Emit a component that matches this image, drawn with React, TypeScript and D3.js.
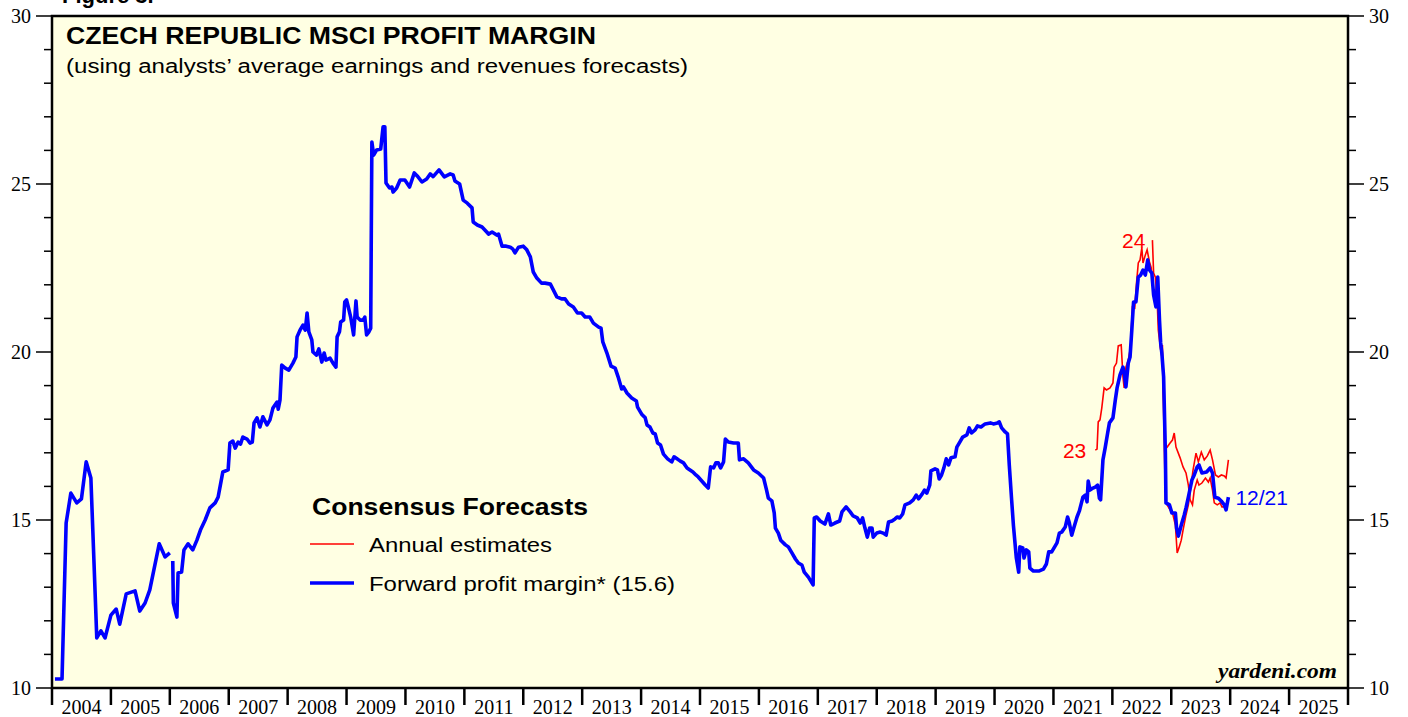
import React from 'react';
import * as d3 from 'd3';

// forward profit margin (decimal year, %); NaN marks the gap in early 2006
const forwardMargin: [number, number][] = [
  [2004.05, 10.27], [2004.17, 10.27], [2004.24, 14.91], [2004.32, 15.8], [2004.42, 15.51], [2004.5, 15.63],
  [2004.58, 16.73], [2004.66, 16.25], [2004.76, 11.49], [2004.83, 11.7], [2004.9, 11.49], [2005.0, 12.17],
  [2005.09, 12.35], [2005.15, 11.9], [2005.26, 12.8], [2005.41, 12.89], [2005.49, 12.29], [2005.58, 12.53],
  [2005.66, 12.92], [2005.82, 14.29], [2005.92, 13.9], [2006.0, 14.02], [2006.03, NaN],
  [2006.05, 13.78], [2006.06, 12.53], [2006.12, 12.11], [2006.14, 13.42], [2006.2, 13.45], [2006.24, 14.11],
  [2006.31, 14.29], [2006.39, 14.11], [2006.46, 14.4], [2006.52, 14.7], [2006.6, 15.0], [2006.68, 15.36],
  [2006.77, 15.51], [2006.82, 15.68], [2006.9, 16.43], [2006.99, 16.49], [2007.02, 17.29], [2007.07, 17.35],
  [2007.11, 17.14], [2007.16, 17.32], [2007.2, 17.26], [2007.24, 17.47], [2007.31, 17.41], [2007.36, 17.29],
  [2007.4, 17.32], [2007.43, 17.89], [2007.48, 18.04], [2007.53, 17.77], [2007.58, 18.07], [2007.65, 17.83],
  [2007.7, 17.98], [2007.75, 18.33], [2007.82, 18.51], [2007.84, 18.3], [2007.87, 18.57], [2007.9, 19.61],
  [2007.96, 19.52], [2008.02, 19.46], [2008.09, 19.67], [2008.14, 19.85], [2008.16, 20.45], [2008.21, 20.65],
  [2008.26, 20.8], [2008.3, 20.65], [2008.33, 21.16], [2008.36, 20.6], [2008.41, 20.36], [2008.43, 20.0],
  [2008.49, 19.91], [2008.53, 20.09], [2008.58, 19.7], [2008.62, 19.97], [2008.65, 19.76], [2008.72, 19.82],
  [2008.77, 19.67], [2008.82, 19.55], [2008.84, 20.45], [2008.88, 20.6], [2008.9, 20.89], [2008.95, 20.95],
  [2008.97, 21.49], [2009.0, 21.55], [2009.03, 21.34], [2009.07, 21.04], [2009.12, 20.51], [2009.16, 21.52],
  [2009.18, 21.04], [2009.23, 20.95], [2009.28, 20.95], [2009.31, 21.04], [2009.34, 20.51], [2009.38, 20.6],
  [2009.41, 20.71], [2009.43, 26.25], [2009.46, 25.86], [2009.51, 26.01], [2009.58, 26.04], [2009.62, 26.7],
  [2009.65, 26.7], [2009.67, 25.03], [2009.73, 24.88], [2009.77, 24.91], [2009.79, 24.76], [2009.85, 24.88],
  [2009.91, 25.12], [2009.99, 25.12], [2010.07, 24.91], [2010.15, 25.33], [2010.2, 25.24], [2010.28, 25.06],
  [2010.36, 25.15], [2010.42, 25.3], [2010.47, 25.22], [2010.57, 25.42], [2010.66, 25.21], [2010.76, 25.3],
  [2010.81, 25.27], [2010.84, 25.09], [2010.92, 25.0], [2010.98, 24.52], [2011.05, 24.43], [2011.13, 24.29],
  [2011.15, 23.87], [2011.22, 23.78], [2011.3, 23.72], [2011.38, 23.57], [2011.41, 23.51], [2011.47, 23.57],
  [2011.55, 23.48], [2011.58, 23.51], [2011.64, 23.15], [2011.71, 23.15], [2011.78, 23.12], [2011.82, 23.07],
  [2011.86, 22.95], [2011.92, 23.12], [2012.0, 23.15], [2012.06, 23.04], [2012.12, 22.83], [2012.17, 22.38],
  [2012.23, 22.2], [2012.31, 22.05], [2012.37, 22.05], [2012.46, 22.02], [2012.51, 21.85], [2012.57, 21.64],
  [2012.65, 21.58], [2012.71, 21.58], [2012.77, 21.43], [2012.85, 21.34], [2012.92, 21.16], [2012.99, 21.16],
  [2013.05, 21.04], [2013.13, 21.04], [2013.19, 20.86], [2013.28, 20.74], [2013.32, 20.71], [2013.35, 20.3],
  [2013.42, 19.97], [2013.49, 19.58], [2013.56, 19.52], [2013.61, 19.26], [2013.67, 18.9], [2013.7, 18.96],
  [2013.76, 18.78], [2013.84, 18.63], [2013.92, 18.54], [2013.94, 18.36], [2014.01, 18.15], [2014.07, 18.04],
  [2014.1, 17.83], [2014.15, 17.77], [2014.2, 17.59], [2014.24, 17.56], [2014.28, 17.29], [2014.33, 17.23],
  [2014.38, 16.96], [2014.45, 16.82], [2014.52, 16.73], [2014.56, 16.88], [2014.61, 16.82], [2014.66, 16.76],
  [2014.72, 16.7], [2014.78, 16.55], [2014.83, 16.49], [2014.88, 16.43], [2014.93, 16.34], [2014.97, 16.28],
  [2015.03, 16.16], [2015.09, 16.04], [2015.14, 15.95], [2015.18, 16.58], [2015.23, 16.55], [2015.27, 16.7],
  [2015.31, 16.7], [2015.35, 16.55], [2015.4, 16.73], [2015.43, 17.41], [2015.48, 17.32], [2015.57, 17.29],
  [2015.65, 17.29], [2015.67, 16.79], [2015.74, 16.82], [2015.82, 16.7], [2015.91, 16.49], [2015.99, 16.4],
  [2016.08, 16.25], [2016.13, 15.89], [2016.16, 15.65], [2016.22, 15.57], [2016.26, 15.21], [2016.28, 14.76],
  [2016.33, 14.61], [2016.37, 14.4], [2016.45, 14.26], [2016.5, 14.2], [2016.56, 14.02], [2016.62, 13.84],
  [2016.67, 13.72], [2016.73, 13.66], [2016.77, 13.45], [2016.84, 13.3], [2016.92, 13.07], [2016.94, 15.06],
  [2016.98, 15.09], [2017.04, 14.97], [2017.12, 14.88], [2017.18, 15.18], [2017.22, 14.85], [2017.29, 14.91],
  [2017.37, 14.97], [2017.41, 15.24], [2017.48, 15.39], [2017.55, 15.24], [2017.6, 15.12], [2017.67, 15.06],
  [2017.72, 14.91], [2017.76, 15.06], [2017.8, 14.76], [2017.84, 14.49], [2017.88, 14.76], [2017.92, 14.76],
  [2017.94, 14.49], [2018.0, 14.61], [2018.06, 14.64], [2018.11, 14.61], [2018.16, 14.55], [2018.2, 14.94],
  [2018.26, 14.97], [2018.31, 15.03], [2018.35, 15.09], [2018.39, 15.06], [2018.44, 15.18], [2018.48, 15.45],
  [2018.56, 15.51], [2018.62, 15.6], [2018.67, 15.74], [2018.71, 15.63], [2018.77, 15.77], [2018.81, 15.89],
  [2018.85, 15.8], [2018.9, 16.04], [2018.92, 16.46], [2018.99, 16.52], [2019.03, 16.49], [2019.06, 16.22],
  [2019.1, 16.34], [2019.14, 16.55], [2019.18, 16.82], [2019.22, 16.64], [2019.26, 16.85], [2019.33, 16.88],
  [2019.36, 17.17], [2019.42, 17.35], [2019.46, 17.47], [2019.53, 17.53], [2019.57, 17.74], [2019.61, 17.59],
  [2019.67, 17.68], [2019.71, 17.8], [2019.77, 17.77], [2019.84, 17.86], [2019.93, 17.89], [2019.98, 17.86],
  [2020.05, 17.89], [2020.08, 17.92], [2020.12, 17.74], [2020.18, 17.62], [2020.22, 17.56], [2020.25, 16.64],
  [2020.29, 15.6], [2020.32, 14.85], [2020.37, 13.87], [2020.41, 13.45], [2020.43, 14.2], [2020.48, 14.17],
  [2020.5, 13.87], [2020.54, 14.11], [2020.58, 14.05], [2020.6, 13.57], [2020.66, 13.48], [2020.75, 13.48],
  [2020.83, 13.54], [2020.88, 13.69], [2020.92, 14.05], [2020.97, 14.05], [2021.06, 14.32], [2021.1, 14.61],
  [2021.14, 14.64], [2021.2, 14.79], [2021.24, 15.09], [2021.27, 14.91], [2021.31, 14.55], [2021.35, 14.79],
  [2021.4, 15.09], [2021.44, 15.27], [2021.5, 15.68], [2021.54, 15.74], [2021.57, 15.54], [2021.59, 16.16],
  [2021.62, 15.89], [2021.67, 15.95], [2021.71, 15.98], [2021.75, 16.04], [2021.78, 15.65], [2021.8, 15.6],
  [2021.84, 16.79], [2021.88, 17.17], [2021.92, 17.59], [2021.95, 17.89], [2022.01, 18.04], [2022.05, 18.57],
  [2022.08, 18.93], [2022.13, 19.32], [2022.18, 19.55], [2022.2, 19.4], [2022.23, 18.96], [2022.27, 19.67],
  [2022.3, 19.85], [2022.33, 20.65], [2022.36, 21.49], [2022.4, 21.49], [2022.44, 22.23], [2022.48, 22.29],
  [2022.52, 22.44], [2022.56, 22.29], [2022.6, 22.74], [2022.63, 22.44], [2022.67, 22.35], [2022.7, 21.7],
  [2022.74, 21.34], [2022.77, 22.23], [2022.8, 20.95], [2022.82, 20.27], [2022.84, 19.97], [2022.87, 19.26],
  [2022.9, 16.99], [2022.91, 15.51], [2022.97, 15.45], [2023.01, 15.21], [2023.07, 15.21], [2023.09, 14.76],
  [2023.12, 14.52], [2023.17, 14.85], [2023.22, 15.15], [2023.25, 15.36], [2023.29, 15.68], [2023.35, 16.19],
  [2023.39, 16.34], [2023.44, 16.58], [2023.47, 16.64], [2023.52, 16.4], [2023.6, 16.43], [2023.66, 16.55],
  [2023.7, 16.4], [2023.74, 15.68], [2023.8, 15.65], [2023.86, 15.54], [2023.9, 15.45], [2023.93, 15.3],
  [2023.97, 15.68],
];

// annual estimates for 2023
const est2023: [number, number][] = [
  [2021.71, 17.08], [2021.74, 17.11], [2021.76, 17.92], [2021.79, 17.98], [2021.82, 18.33], [2021.86, 18.93],
  [2021.9, 18.87], [2021.96, 18.93], [2022.01, 19.08], [2022.03, 19.55], [2022.07, 19.67], [2022.1, 20.18],
  [2022.15, 20.21], [2022.18, 19.26], [2022.2, 18.93], [2022.23, 19.55], [2022.27, 19.76], [2022.31, 20.15],
  [2022.34, 21.34], [2022.38, 21.31], [2022.41, 22.05], [2022.44, 22.65], [2022.47, 22.74], [2022.5, 23.1],
  [2022.52, 22.65], [2022.56, 22.89], [2022.59, 23.04], [2022.63, 22.68], [2022.66, 22.5], [2022.69, 21.85],
  [2022.73, 21.55], [2022.76, 22.08], [2022.79, 20.8], [2022.82, 20.06], [2022.85, 20.21], [2022.86, 19.02],
  [2022.88, 17.38], [2022.9, 15.6], [2022.93, 15.45], [2022.98, 15.3], [2023.03, 15.15], [2023.07, 14.85],
  [2023.1, 14.02], [2023.13, 14.17], [2023.17, 14.4], [2023.2, 14.7], [2023.25, 15.15], [2023.29, 15.45],
  [2023.32, 15.83], [2023.37, 16.49], [2023.42, 16.99], [2023.46, 16.73], [2023.51, 17.02], [2023.56, 16.79],
  [2023.61, 16.9], [2023.66, 17.08], [2023.7, 16.79], [2023.75, 16.34], [2023.8, 16.28], [2023.85, 16.34],
  [2023.9, 16.31], [2023.93, 16.25], [2023.97, 16.79],
];

// annual estimates for 2024
const est2024: [number, number][] = [
  [2022.68, 23.33], [2022.7, 22.35], [2022.73, 22.23], [2022.76, 21.55], [2022.78, 20.65], [2022.81, 20.21],
  [2022.85, 19.76], [2022.86, 19.17], [2022.9, 17.2], [2022.93, 17.17], [2022.98, 17.29], [2023.02, 17.38],
  [2023.05, 17.59], [2023.08, 17.17], [2023.15, 16.85], [2023.2, 16.58], [2023.25, 16.4], [2023.29, 16.04],
  [2023.32, 15.6], [2023.36, 15.45], [2023.39, 15.89], [2023.44, 16.19], [2023.47, 16.04], [2023.52, 16.1],
  [2023.58, 16.25], [2023.63, 16.13], [2023.66, 16.25], [2023.7, 15.89], [2023.73, 15.51], [2023.78, 15.45],
  [2023.83, 15.51], [2023.86, 15.39], [2023.91, 15.39], [2023.95, 15.42],
];

const yearLabels = d3.range(2004, 2026);
const yLabels = [10, 15, 20, 25, 30];

const W = 1408;
const H = 717;
const M = { left: 52, right: 1348, top: 16, bottom: 688 };

const serif = '"Liberation Serif", "Times New Roman", serif';
const sans = '"Liberation Sans", Arial, sans-serif';

// text stretched to the widths seen in the original
const Txt = ({ w, children, ...rest }: any) => (
  <text textLength={w} lengthAdjust="spacingAndGlyphs" {...rest}>{children}</text>
);

export default function App() {
  const x = d3.scaleLinear().domain([2004, 2026]).range([M.left, M.right]);
  const y = d3.scaleLinear().domain([10, 30]).range([M.bottom, M.top]);

  const line = d3
    .line<[number, number]>()
    .defined((d) => !isNaN(d[1]))
    .x((d) => x(d[0]))
    .y((d) => y(d[1]));

  const minor = d3.range(10, 31);
  const last = forwardMargin[forwardMargin.length - 1];

  return (
    <svg width={W} height={H} style={{ position: 'absolute', left: 0, top: 0, background: '#fff' }}>
      <text x={62} y={3} fontFamily={sans} fontWeight="bold" fontSize={22}>Figure 3.</text>

      <rect x={M.left} y={M.top} width={M.right - M.left} height={M.bottom - M.top} fill="#ffffe3" />

      {/* left and right y ticks */}
      {minor.map((v) => {
        const len = v % 5 === 0 ? 16 : 8;
        return (
          <g key={v}>
            <line x1={M.left - len} x2={M.left} y1={y(v)} y2={y(v)} stroke="#000" strokeWidth={1.5} />
            <line x1={M.right} x2={M.right + len} y1={y(v)} y2={y(v)} stroke="#000" strokeWidth={1.5} />
          </g>
        );
      })}
      {yLabels.map((v) => (
        <g key={v} fontFamily={serif} fontSize={20}>
          <text x={31} y={y(v)} textAnchor="end" dominantBaseline="central">{v}</text>
          <text x={1369} y={y(v)} dominantBaseline="central">{v}</text>
        </g>
      ))}

      {/* year ticks */}
      {d3.range(2004, 2027).map((yr) => (
        <line key={yr} x1={x(yr)} x2={x(yr)} y1={M.bottom} y2={M.bottom + 17} stroke="#000" strokeWidth={2.5} />
      ))}
      {yearLabels.map((yr) => (
        <text key={yr} x={x(yr + 0.5)} y={714} textAnchor="middle" fontFamily={serif} fontSize={20}>{yr}</text>
      ))}

      {/* series */}
      <path d={line(est2023) ?? ''} fill="none" stroke="#ff0000" strokeWidth={1.6} />
      <path d={line(est2024) ?? ''} fill="none" stroke="#ff0000" strokeWidth={1.6} />
      <path d={line(forwardMargin) ?? ''} fill="none" stroke="#0000ff" strokeWidth={3.6} strokeLinejoin="round" />

      <text x={x(est2023[0][0]) - 9} y={y(est2023[0][1])} textAnchor="end" dominantBaseline="central" fill="#ff0000" fontFamily={sans} fontSize={21}>23</text>
      <text x={x(est2024[0][0]) - 7} y={y(est2024[0][1])} textAnchor="end" dominantBaseline="central" fill="#ff0000" fontFamily={sans} fontSize={21}>24</text>
      <text x={x(last[0]) + 7} y={y(last[1])} dominantBaseline="central" fill="#0000ff" fontFamily={sans} fontSize={21}>12/21</text>

      {/* frame */}
      <rect x={M.left} y={M.top} width={M.right - M.left} height={M.bottom - M.top} fill="none" stroke="#000" strokeWidth={2.5} />

      {/* titles */}
      <Txt w={530} x={66} y={44} fontFamily={sans} fontWeight="bold" fontSize={23}>CZECH REPUBLIC MSCI PROFIT MARGIN</Txt>
      <Txt w={622} x={66} y={73} fontFamily={sans} fontSize={20}>(using analysts’ average earnings and revenues forecasts)</Txt>

      {/* legend */}
      <Txt w={276} x={312} y={515} fontFamily={sans} fontWeight="bold" fontSize={23}>Consensus Forecasts</Txt>
      <line x1={310} x2={354} y1={544} y2={544} stroke="#ff0000" strokeWidth={1.6} />
      <Txt w={183} x={369} y={552} fontFamily={sans} fontSize={20}>Annual estimates</Txt>
      <line x1={310} x2={354} y1={583} y2={583} stroke="#0000ff" strokeWidth={3.6} />
      <Txt w={306} x={369} y={591} fontFamily={sans} fontSize={20}>Forward profit margin* (15.6)</Txt>

      <Txt w={119} x={1218} y={678} fontFamily={serif} fontWeight="bold" fontStyle="italic" fontSize={21}>yardeni.com</Txt>
    </svg>
  );
}
